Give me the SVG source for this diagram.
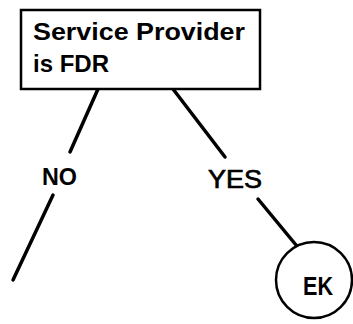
<svg xmlns="http://www.w3.org/2000/svg" width="353" height="324" viewBox="0 0 353 324">
<style>
.shape{fill:#fff;stroke:#000;stroke-width:2.5}
.conn{stroke:#000;stroke-width:3.5;stroke-linecap:round;fill:none}
.t{font-family:"Liberation Sans",Arial,sans-serif;font-weight:bold;fill:#000}
.r{font-family:"Liberation Sans",Arial,sans-serif;font-weight:normal;fill:#000;stroke:#000;stroke-width:0.7}
</style>
<rect width="353" height="324" fill="#fff"/>
<g id="connectors">
<line class="conn" x1="98" y1="89" x2="70" y2="152"/>
<line class="conn" x1="53" y1="195" x2="13" y2="280"/>
<line class="conn" x1="173" y1="89" x2="225" y2="157"/>
<line class="conn" x1="258" y1="199" x2="296" y2="245"/>
</g>
<g id="node-fdr">
<rect class="shape" x="21" y="10" width="239" height="79"/>
<text class="t" x="33" y="40" font-size="24" textLength="212" lengthAdjust="spacingAndGlyphs">Service Provider</text>
<text class="t" x="33" y="72" font-size="24" textLength="76" lengthAdjust="spacingAndGlyphs">is FDR</text>
</g>
<g id="label-no">
<text class="t" x="42" y="185" font-size="24" textLength="35" lengthAdjust="spacingAndGlyphs">NO</text>
</g>
<g id="label-yes">
<text class="r" x="208" y="188" font-size="25" textLength="54" lengthAdjust="spacingAndGlyphs">YES</text>
</g>
<g id="node-ek">
<circle class="shape" cx="314" cy="280" r="38"/>
<text class="t" x="303" y="295" font-size="25" textLength="30" lengthAdjust="spacingAndGlyphs">EK</text>
</g>
</svg>
